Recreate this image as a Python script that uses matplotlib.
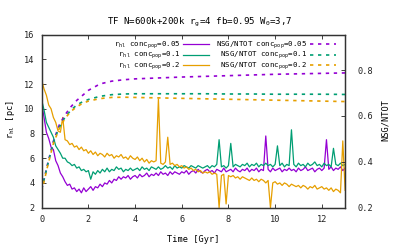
import numpy as np
import matplotlib
matplotlib.use('Agg')
import matplotlib.pyplot as plt

plt.rcParams['font.family'] = ['DejaVu Sans Mono']
plt.rcParams['mathtext.fontset'] = 'custom'
plt.rcParams['mathtext.rm'] = 'DejaVu Sans Mono'
plt.rcParams['mathtext.it'] = 'DejaVu Sans Mono'
plt.rcParams['mathtext.default'] = 'rm'
plt.rcParams['font.size'] = 6.2

# time grid of the r_hl curves [Gyr], 0.1 Gyr steps
t = np.round(np.arange(0, 13.05, 0.1), 1)

# half-light radius [pc], conc_pop = 0.05
rhl_005 = [10.4, 9.3, 8.1, 7.6, 6.9, 6.7, 5.8, 5.4, 4.8, 4.5,
           4.1, 3.8, 3.9, 3.5, 3.6, 3.3, 3.5, 3.2, 3.6, 3.3,
           3.5, 3.7, 3.4, 3.7, 3.6, 3.9, 3.7, 4.0, 3.9, 4.2,
           4.0, 4.3, 4.2, 4.5, 4.3, 4.5, 4.4, 4.6, 4.3, 4.5,
           4.6, 4.4, 4.7, 4.5, 4.6, 4.8, 4.5, 4.7, 4.6, 4.8,
           4.6, 4.9, 4.7, 4.8, 4.6, 4.9, 4.7, 4.9, 4.8, 4.7,
           4.9, 4.8, 5.0, 4.7, 4.9, 5.0, 4.8, 5.1, 4.9, 4.8,
           5.0, 5.1, 4.9, 5.0, 4.8, 5.1, 5.0, 4.9, 5.2, 4.9,
           5.0, 5.1, 4.9, 5.2, 5.0, 4.9, 5.1, 5.0, 5.2, 4.9,
           5.1, 5.0, 5.2, 4.9, 5.1, 5.0, 7.8, 5.1, 4.9, 5.2,
           5.0, 5.1, 5.2, 4.9, 5.1, 5.0, 5.2, 5.0, 5.1, 4.9,
           5.2, 5.0, 5.1, 5.3, 5.0, 5.1, 5.2, 4.9, 5.1, 5.2,
           5.0, 5.2, 7.5, 5.1, 5.3, 5.0, 5.2, 5.1, 5.3, 5.0,
           5.2]

# conc_pop = 0.1
rhl_01 = [10.7, 9.9, 8.9, 8.5, 8.1, 7.7, 7.0, 6.7, 6.4, 6.0,
          6.0, 5.7, 5.6, 5.4, 5.5, 5.2, 5.3, 5.0, 5.1, 4.9,
          5.0, 4.3, 4.9, 4.7, 5.0, 4.8, 5.1, 4.9, 5.2, 4.9,
          5.1, 5.0, 5.3, 5.1, 5.2, 4.9, 5.1, 5.0, 5.2, 5.0,
          5.1, 5.2, 5.0, 5.3, 5.1, 5.2, 5.0, 5.3, 5.2, 5.1,
          5.3, 5.1, 5.2, 5.4, 5.2, 5.3, 5.1, 5.4, 5.2, 5.3,
          5.2, 5.4, 5.3, 5.2, 5.4, 5.3, 5.2, 5.4, 5.3, 5.2,
          5.3, 5.4, 5.2, 5.4, 5.3, 5.5, 7.5, 5.3, 5.4, 5.2,
          5.4, 7.2, 5.3, 5.5, 5.4, 5.3, 5.5, 5.4, 5.6, 5.3,
          5.5, 5.4, 5.6, 5.3, 5.5, 5.4, 5.6, 5.4, 5.5, 5.3,
          5.5, 7.0, 5.4, 5.6, 5.3, 5.5, 5.4, 8.3, 5.5, 5.3,
          5.6, 5.4, 5.5, 5.3, 5.6, 5.4, 5.5, 5.7, 5.4, 5.5,
          5.3, 5.6, 5.4, 5.5, 5.3, 6.8, 5.5, 5.4, 5.6, 5.4,
          5.5]

# conc_pop = 0.2
rhl_02 = [12.3, 11.6, 11.1, 10.3, 10.0, 9.3, 8.9, 8.2, 8.1, 9.3,
          7.5, 7.4, 7.1, 7.2, 6.9, 7.0, 6.7, 6.9, 6.6, 6.7,
          6.4, 6.6, 6.3, 6.5, 6.2, 6.4, 6.3, 6.1, 6.4, 6.2,
          6.3, 6.0, 6.2, 6.1, 6.3, 6.0, 6.1, 5.9, 6.2, 6.0,
          5.9, 6.1, 5.8, 6.0, 5.7, 5.9, 5.6, 5.8, 5.7, 5.8,
          10.8, 5.6, 5.5, 5.7, 7.7, 5.5, 5.6, 5.4, 5.5, 5.3,
          5.4, 5.2, 5.3, 5.1, 5.2, 5.0, 5.1, 4.9, 5.0, 4.8,
          4.9, 4.8, 4.9, 4.7, 4.8, 4.7, 2.0, 4.6, 4.7, 2.3,
          4.6, 4.5, 4.6, 4.4, 4.5, 4.3, 4.5, 4.4, 4.3, 4.2,
          4.4, 4.2, 4.3, 4.1, 4.3, 4.2, 4.0, 4.2, 2.0, 4.0,
          4.1, 3.9, 4.0, 3.8, 4.0, 3.9, 3.7, 3.9, 3.8, 3.7,
          3.8, 3.6, 3.8, 3.7, 3.5, 3.7, 3.6, 3.8, 3.5, 3.6,
          3.7, 3.5, 3.6, 3.4, 3.6, 3.3, 3.5, 3.4, 3.2, 7.4,
          3.4]

# NSG/NTOT curves
t_nsg = [0, 0.25, 0.5, 0.75, 1, 1.25, 1.5, 1.75, 2, 2.5, 3, 3.5, 4,
         5, 6, 7, 8, 9, 10, 11, 12, 13]
nsg_005 = [0.28, 0.39, 0.49, 0.56, 0.605, 0.64, 0.668, 0.69, 0.712, 0.74,
           0.752, 0.758, 0.762, 0.766, 0.77, 0.773, 0.776, 0.779, 0.782,
           0.784, 0.786, 0.788]
nsg_01 = [0.28, 0.385, 0.485, 0.55, 0.595, 0.625, 0.648, 0.662, 0.672, 0.686,
          0.693, 0.696, 0.697, 0.697, 0.697, 0.697, 0.696, 0.696, 0.695,
          0.695, 0.695, 0.694]
nsg_02 = [0.27, 0.38, 0.48, 0.545, 0.59, 0.62, 0.64, 0.655, 0.665, 0.676,
          0.681, 0.682, 0.681, 0.679, 0.677, 0.675, 0.673, 0.671, 0.669,
          0.667, 0.665, 0.663]

concs = ['0.05', '0.1', '0.2']
colors = ['#9400d3', '#009e73', '#e69f00']

fig = plt.figure(figsize=(4.07, 2.44), dpi=100)
ax = fig.add_axes([0.1025, 0.149, 0.7455, 0.709])
ax2 = ax.twinx()

handles = []
for y, c, cc in zip([rhl_005, rhl_01, rhl_02], concs, colors):
    pad = ' ' * (4 - len(c))
    l, = ax.plot(t, y, color=cc, lw=0.9,
                 label=pad + r'r$_{\mathrm{hl}}$ conc$_{\mathrm{pop}}$=' + c)
    handles.append(l)
for y, c, cc in zip([nsg_005, nsg_01, nsg_02], concs, colors):
    pad = ' ' * (4 - len(c))
    l, = ax2.plot(t_nsg, y, color=cc, lw=1.2, ls=(0, (2.0, 2.8)),
                  label=pad + r'NSG/NTOT conc$_{\mathrm{pop}}$=' + c)
    handles.append(l)

ax.set_xlim(0, 13)
ax.set_ylim(2, 16)
ax2.set_ylim(0.2, 0.955)
ax.set_xticks(range(0, 13, 2))
ax.set_yticks(range(2, 17, 2))
ax2.set_yticks([0.2, 0.4, 0.6, 0.8])
ax2.set_yticklabels(['0.2', '0.4', '0.6', '0.8'])

ax.tick_params(direction='in', length=3, width=0.6, top=True, right=False,
               colors='#222222', pad=5)
ax2.tick_params(direction='in', length=3, width=0.6, colors='#222222', pad=9)
for a in (ax, ax2):
    for s in a.spines.values():
        s.set_linewidth(0.9)
        s.set_color('#333333')

ax.set_xlabel('Time [Gyr]')
ax.xaxis.set_label_coords(0.5, -0.158)
ax.set_ylabel(r'r$_{\mathrm{hl}}$ [pc]')
ax.yaxis.set_label_coords(-0.082, 0.507)
ax2.set_ylabel('NSG/NTOT')
ax2.yaxis.set_label_coords(1.118, 0.507)

fig.text(0.49, 0.91, r'TF N=600k+200k r$_{\mathrm{g}}$=4 fb=0.95 W$_{0}$=3,7',
         ha='center', va='center', fontsize=6.6)

ax2.legend(handles=handles, ncol=2, loc='upper right', frameon=False,
           bbox_to_anchor=(0.984, 1.0),
           markerfirst=False, handlelength=3.5, handletextpad=0.4,
           columnspacing=0.95, labelspacing=-0.1, borderaxespad=0.2,
           borderpad=0.4, fontsize=5.3)

fig.savefig('out.png', dpi=100)
